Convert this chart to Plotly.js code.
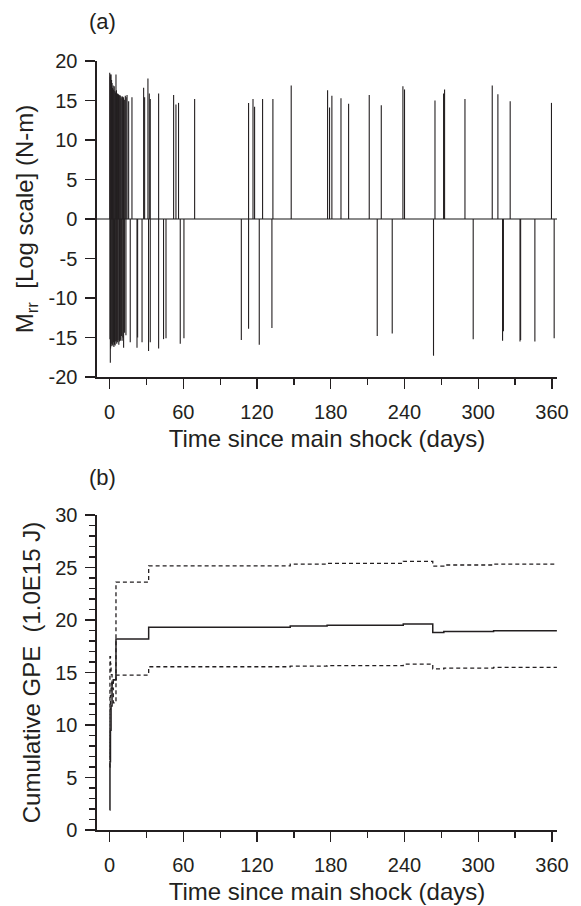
<!DOCTYPE html>
<html>
<head>
<meta charset="utf-8">
<script src="https://cdn.plot.ly/plotly-3.0.1.min.js"></script>
<style>html,body{margin:0;padding:0;background:#fff;}#chart{width:581px;height:906px;}</style>
</head>
<body>
<div id="chart"></div>
<script>
// ---- Panel (a): M_rr (log scale, signed) per aftershock ----
const mrrDays = [
  0.1, 0.5, 0.9, 1.1, 1.6, 2.0, 2.4, 2.9, 3.3, 3.8, 4.3, 4.7, 5.2, 5.6, 6.0, 6.5, 7.0, 7.3, 7.8, 8.3,
  8.7, 9.3, 9.9, 10.6, 11.0, 11.4, 12.0, 12.8, 13.5, 14.2, 15.5, 18.2, 27.7, 28.5, 31.2, 32.3, 33.1, 39.9,
  52.1, 54.0, 56.1, 69.2, 113.1, 116.7, 118.0, 124.5, 132.9, 147.8, 177.4, 179.0, 180.9, 188.3, 194.5,
  211.3, 221.1, 238.7, 240.0, 264.8, 271.8, 272.6, 289.2, 311.4, 316.0, 326.0, 359.6,
  0.3, 0.6, 0.8, 1.3, 1.8, 2.2, 2.7, 3.1, 3.5, 4.0, 4.5, 5.0, 5.4, 5.8, 6.3, 6.8, 7.5, 8.0, 8.5, 9.0,
  9.6, 10.2, 10.8, 11.4, 12.2, 13.3, 16.8, 22.3, 22.8, 26.4, 31.7, 33.1, 39.9, 43.9, 45.9, 57.5, 60.5,
  107.2, 113.1, 121.8, 132.1, 217.8, 230.0, 263.6, 295.9, 319.8, 320.5, 334.0, 334.5, 346.1, 361.8
];
const mrrLog = [
  18.5, 18.0, 18.3, 18.3, 17.6, 17.2, 16.6, 16.9, 16.4, 16.8, 16.2, 16.0, 18.3, 16.3, 15.8, 15.9, 15.7, 15.8, 15.6, 15.7,
  15.6, 15.3, 15.5, 15.5, 15.3, 15.4, 15.1, 15.6, 15.4, 15.7, 14.9, 15.4, 16.6, 15.4, 17.8, 15.9, 15.2, 15.9,
  15.7, 14.5, 14.7, 15.2, 14.7, 15.2, 14.2, 15.2, 15.2, 16.9, 16.3, 14.1, 15.6, 15.3, 14.6,
  15.7, 14.4, 16.8, 16.4, 15.0, 15.9, 16.4, 15.2, 16.9, 15.8, 14.9, 14.7,
  -15.2, -18.2, -16.4, -15.8, -16.1, -15.9, -16.0, -15.6, -16.2, -15.9, -16.0, -15.5, -15.4, -15.8, -15.6, -15.3, -15.9, -15.5, -15.2, -15.4,
  -14.8, -15.4, -15.0, -16.3, -14.4, -14.7, -15.6, -16.3, -15.0, -15.6, -16.7, -15.6, -16.4, -15.2, -15.1, -15.8, -15.1,
  -15.3, -13.9, -15.9, -13.8, -14.8, -14.5, -17.3, -15.2, -15.4, -14.2, -15.5, -15.3, -15.5, -15.1
];
const yTickValsA = [-20, -15, -10, -5, 0, 5, 10, 15, 20];
const yTickTextA = ['-20', '-15', '-10', '-5', '0', '5', '10', '15', '20'];

// ---- Panel (b): cumulative GPE (1.0E15 J), best estimate and bounds ----
const gpeDays  = [0, 0.3, 0.7, 1.2, 2.0, 3.0, 5.2, 31.8, 147, 177, 239, 263, 272, 312.5, 364];
const gpeMean  = [1.9, 6.5, 9.5, 11.8, 14.0, 14.3, 18.2, 19.3, 19.43, 19.5, 19.62, 18.8, 18.9, 18.98, 18.98];
const gpeUpper = [7.0, 16.5, 15.8, 14.8, 13.5, 12.1, 23.6, 25.15, 25.33, 25.4, 25.59, 25.14, 25.24, 25.33, 25.33];
const gpeLower = [6.0, 11.5, 12.8, 13.6, 14.0, 14.3, 14.76, 15.55, 15.6, 15.65, 15.8, 15.35, 15.42, 15.48, 15.48];

const xTickVals = [0, 60, 120, 180, 240, 300, 360];

// build spike segments from the data arrays
const segX = [], segY = [];
for (let i = 0; i < mrrDays.length; i++) {
  segX.push(mrrDays[i], mrrDays[i], null);
  segY.push(0, mrrLog[i], null);
}

const ink = '#231f20';
const fontFam = '"Liberation Sans", Arial, Helvetica, sans-serif';
const tickFont = {family: fontFam, size: 20, color: ink};
const titleFont = {family: fontFam, size: 24, color: ink};

const traces = [
  {x: segX, y: segY, xaxis: 'x', yaxis: 'y', mode: 'lines', type: 'scatter',
   line: {color: ink, width: 1.1}, hoverinfo: 'skip', showlegend: false},
  {x: gpeDays, y: gpeMean, xaxis: 'x2', yaxis: 'y2', mode: 'lines', type: 'scatter',
   line: {color: ink, width: 1.5, shape: 'hv'}, showlegend: false},
  {x: gpeDays, y: gpeUpper, xaxis: 'x2', yaxis: 'y2', mode: 'lines', type: 'scatter',
   line: {color: ink, width: 1.3, shape: 'hv', dash: '4px,3px'}, showlegend: false},
  {x: gpeDays, y: gpeLower, xaxis: 'x2', yaxis: 'y2', mode: 'lines', type: 'scatter',
   line: {color: ink, width: 1.3, shape: 'hv', dash: '4px,3px'}, showlegend: false}
];

const xCommon = {
  range: [-10.25, 364.1], tickvals: xTickVals, ticks: 'outside', ticklen: 10, tickwidth: 1.3,
  tickcolor: ink, showline: true, linecolor: ink, linewidth: 1.6, showgrid: false, zeroline: false,
  ticklabelstandoff: 6,
  minor: {dtick: 30, tick0: 0, ticks: 'outside', ticklen: 6, tickcolor: ink, tickwidth: 1.2, showgrid: false},
  tickfont: tickFont
};

const layout = {
  width: 581, height: 906,
  margin: {l: 97, r: 24, t: 61, b: 76},
  paper_bgcolor: '#fff', plot_bgcolor: '#fff',
  font: {family: fontFam, color: ink},
  showlegend: false,
  xaxis: Object.assign({}, xCommon, {anchor: 'y',
    title: {text: 'Time since main shock (days)', font: titleFont, standoff: 8}}),
  yaxis: {domain: [0.589, 1], anchor: 'x', range: [-20, 20],
    tickvals: yTickValsA, ticktext: yTickTextA,
    ticks: 'outside', ticklen: 10, tickwidth: 1.3, tickcolor: ink, ticklabelstandoff: 4,
    showline: true, linecolor: ink, linewidth: 1.6, showgrid: false,
    zeroline: true, zerolinecolor: '#8a8a8a', zerolinewidth: 1.6,
    tickfont: tickFont,
    title: {text: 'M<sub>rr</sub>  [Log scale] (N-m)', font: titleFont, standoff: 8}},
  xaxis2: Object.assign({}, xCommon, {anchor: 'y2',
    title: {text: 'Time since main shock (days)', font: titleFont, standoff: 8}}),
  yaxis2: {domain: [0, 0.4096], anchor: 'x2', range: [0, 30], dtick: 5, tick0: 0,
    ticks: 'outside', ticklen: 10, tickwidth: 1.3, tickcolor: ink, ticklabelstandoff: 4,
    showline: true, linecolor: ink, linewidth: 1.6, showgrid: false, zeroline: false,
    minor: {dtick: 1, ticks: 'outside', ticklen: 6, tickcolor: ink, tickwidth: 1.2, showgrid: false},
    tickfont: tickFont,
    title: {text: 'Cumulative GPE\u00a0\u00a0(1.0E15 J)', font: titleFont, standoff: 8}},
  annotations: [
    {text: '(a)', xref: 'paper', yref: 'paper', x: 0.0115, y: 1.0514, showarrow: false,
     xanchor: 'center', yanchor: 'middle', font: {family: fontFam, size: 22, color: ink}},
    {text: '(b)', xref: 'paper', yref: 'paper', x: 0.0115, y: 0.458, showarrow: false,
     xanchor: 'center', yanchor: 'middle', font: {family: fontFam, size: 22, color: ink}}
  ]
};

Plotly.newPlot('chart', traces, layout, {staticPlot: true, displayModeBar: false});
</script>
</body>
</html>
